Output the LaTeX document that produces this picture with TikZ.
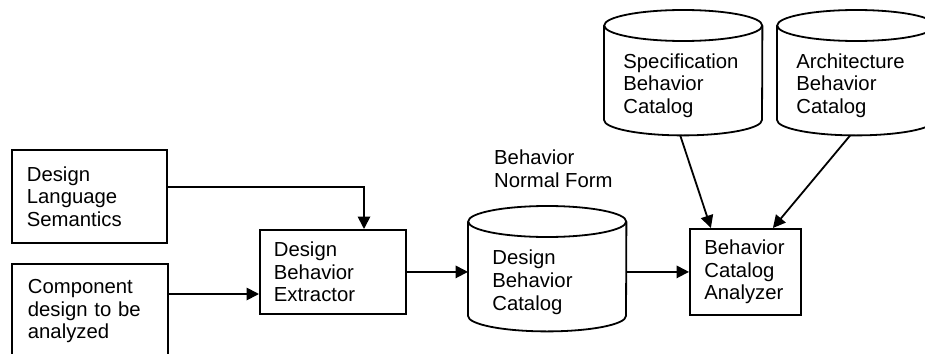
\documentclass[tikz,border=0pt]{standalone}
\usepackage{fontspec}
\setmainfont{Liberation Sans}
\usetikzlibrary{calc,arrows.meta}
\newcommand\drawcyl[1]{%
  \draw[line width=1.8pt] ($(#1.north)+(0,-15.5)$) ellipse[x radius=79pt, y radius=15.5pt];
  \draw[line width=1.8pt] ($(#1.north west)+(0,-15.5)$) -- ($(#1.south west)+(0,15.5)$)
     arc[start angle=180,end angle=360,x radius=79pt,y radius=15.5pt] -- ($(#1.north east)+(0,-15.5)$);
}
\begin{document}
\begin{tikzpicture}[x=1pt,y=1pt,
  txt/.style={font=\fontsize{20.3}{22.6}\selectfont},
  box/.style={txt, draw, line width=1.8pt, align=left, inner xsep=15pt, anchor=north west},
  lbl/.style={txt, align=left, inner sep=0pt, anchor=west},
  arr/.style={line width=1.8pt, -{Triangle[length=12.5pt,width=12.5pt]}},
  cylbase/.style={minimum width=158pt, minimum height=125pt, inner sep=0pt, anchor=north west}]
\fill[white] (0,0) rectangle (925,-353);
\useasboundingbox (0,0) rectangle (925,-353);

\node[box, text width=125pt, minimum height=93pt] (dls) at (11,-149) {Design\\Language\\Semantics};
\node[box, text width=124pt, inner xsep=16pt, minimum height=95pt] (cd) at (11,-263) {Component\\design to be\\analyzed};
\node[box, text width=118pt, inner xsep=14pt, minimum height=84pt] (ext) at (259,-229) {Design\\Behavior\\Extractor};
\node[box, text width=82pt, inner xsep=14.5pt, minimum height=86pt] (ana) at (689,-228) {Behavior\\Catalog\\Analyzer};

\node[cylbase] (dbc) at (468,-206) {};
\node[cylbase] (sbc) at (604,-10) {};
\node[cylbase] (abc) at (777,-10) {};
\drawcyl{dbc}
\drawcyl{sbc}
\drawcyl{abc}

\node[lbl] (dbct) at ($(dbc.center)+(-55,-13.5)$) {Design\\Behavior\\Catalog};
\node[lbl] (sbct) at ($(sbc.center)+(-60,-13)$) {Specification\\Behavior\\Catalog};
\node[lbl] (abct) at ($(abc.center)+(-60,-13)$) {Architecture\\Behavior\\Catalog};
\node[lbl] (bnf) at (494,-168.5) {Behavior\\Normal Form};

\draw[arr] ($(dls.east)+(0,9.5)$) -| ($(ext.north west)+(105,0)$);
\draw[arr] ($(cd.north east)+(0,-31)$) -- ($(ext.north west)+(0,-65)$);
\draw[arr] (ext.east) -- (ext.east -| dbc.west);
\draw[arr] (dbc.east |- ana.west) -- (ana.west);
\draw[arr] ($(sbc.south)+(-3,0)$) -- ($(ana.north)+(-34.5,0)$);
\draw[arr] ($(abc.south)+(-6,0)$) -- ($(ana.north)+(27.5,0)$);
\end{tikzpicture}
\end{document}
